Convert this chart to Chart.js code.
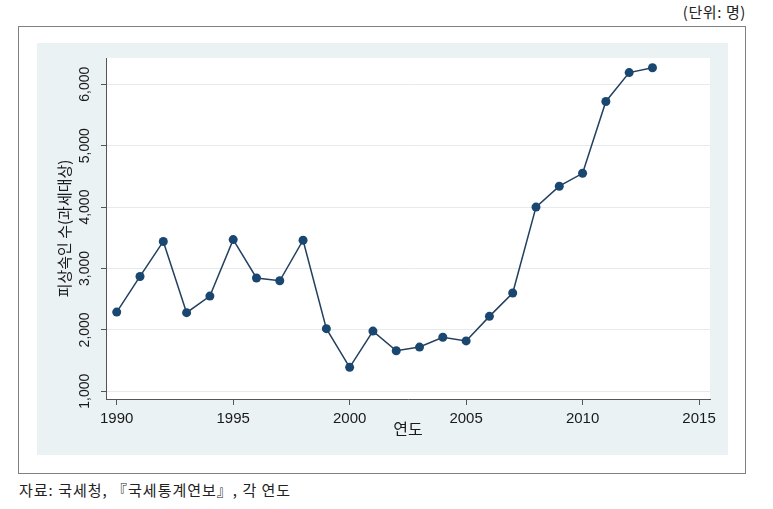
<!DOCTYPE html>
<html>
<head>
<meta charset="utf-8">
<script src="https://cdn.jsdelivr.net/npm/chart.js@4.4.1/dist/chart.umd.min.js"></script>
<style>
  html, body { margin: 0; padding: 0; background: #ffffff; width: 773px; height: 509px; overflow: hidden; }
  .unit { position: absolute; right: 27px; top: 3px; font: 15px "Noto Sans CJK KR", "Liberation Sans", sans-serif; color: #222; line-height: 18px; letter-spacing: 0.6px; }
  .box { position: absolute; left: 18px; top: 26px; width: 728px; height: 448px; box-sizing: border-box; border: 1px solid #808080; }
  .wrap { position: absolute; left: 37px; top: 43px; width: 691px; height: 412px; }
  .src { position: absolute; left: 19px; top: 481px; font: 15px "Noto Sans CJK KR", "Liberation Sans", sans-serif; color: #222; line-height: 18px; letter-spacing: 1px; }
</style>
</head>
<body>
<div class="unit">(단위: 명)</div>
<div class="box"></div>
<div class="wrap"><canvas id="c" width="691" height="412"></canvas></div>
<div class="src">자료: 국세청, 『국세통계연보』, 각 연도</div>
<script>
// ---- data ----
const years = [1990, 1991, 1992, 1993, 1994, 1995, 1996, 1997, 1998, 1999, 2000, 2001,
               2002, 2003, 2004, 2005, 2006, 2007, 2008, 2009, 2010, 2011, 2012, 2013];
const decedents = [2290, 2870, 3440, 2280, 2550, 3470, 2845, 2800, 3460, 2020, 1390, 1980,
                   1660, 1720, 1880, 1820, 2220, 2600, 4000, 4340, 4550, 5720, 6190, 6270];
const xTickValues = [1990, 1995, 2000, 2005, 2010, 2015];
const yTickValues = [1000, 2000, 3000, 4000, 5000, 6000];
const xTitle = '연도';
const yTitle = '피상속인 수(과세대상)';

const bgPlugin = {
  id: 'bg',
  beforeDraw(chart) {
    const { ctx, chartArea: a } = chart;
    ctx.save();
    ctx.fillStyle = '#eaf2f3';
    ctx.fillRect(0, 0, chart.width, chart.height);
    ctx.fillStyle = '#ffffff';
    ctx.fillRect(a.left, a.top, a.right - a.left, a.bottom - a.top);
    ctx.restore();
  }
};

new Chart(document.getElementById('c'), {
  type: 'line',
  data: {
    datasets: [{
      data: years.map((y, i) => ({ x: y, y: decedents[i] })),
      borderColor: '#22405f',
      borderWidth: 1.5,
      pointRadius: 4.5,
      pointBackgroundColor: '#1a476f',
      pointBorderColor: '#1a476f',
      pointBorderWidth: 0,
      tension: 0
    }]
  },
  options: {
    responsive: false,
    animation: false,
    devicePixelRatio: 1,
    layout: { padding: { top: 15, right: 18, bottom: 0, left: 0 } },
    plugins: { legend: { display: false }, tooltip: { enabled: false } },
    scales: {
      x: {
        type: 'linear',
        min: 1989.54,
        max: 2015.47,
        afterBuildTicks: s => { s.ticks = xTickValues.map(v => ({ value: v })); },
        afterFit: s => { s.height = 56; },
        border: { display: true, color: '#555555', width: 1 },
        grid: { display: true, drawOnChartArea: false, drawTicks: true, tickLength: 6, tickColor: '#555555' },
        ticks: {
          autoSkip: false, maxRotation: 0, padding: 5, color: '#1a1a1a',
          font: { family: '"Liberation Sans", Arial, sans-serif', size: 15 },
          callback: v => String(v)
        },
        title: {
          display: true, text: xTitle, color: '#1a1a1a',
          font: { family: '"Noto Sans CJK KR", sans-serif', size: 16 },
          padding: { top: 0, bottom: 16 }
        }
      },
      y: {
        min: 874,
        max: 6428,
        afterBuildTicks: s => { s.ticks = yTickValues.map(v => ({ value: v })); },
        afterFit: s => { s.width = 69; },
        border: { display: true, color: '#555555', width: 1 },
        grid: { display: true, color: '#e4eaed', lineWidth: 1, drawTicks: true, tickLength: 5, tickColor: '#555555' },
        ticks: {
          autoSkip: false, minRotation: 90, maxRotation: 90, crossAlign: 'center', padding: -2,
          color: '#1a1a1a',
          font: { family: '"Liberation Sans", Arial, sans-serif', size: 14 },
          callback: v => Number(v).toLocaleString('en-US')
        },
        title: {
          display: true, text: yTitle, color: '#1a1a1a',
          font: { family: '"Noto Sans CJK KR", sans-serif', size: 15 },
          padding: { top: 18, bottom: 0 }
        }
      }
    }
  },
  plugins: [bgPlugin]
});
</script>
</body>
</html>
